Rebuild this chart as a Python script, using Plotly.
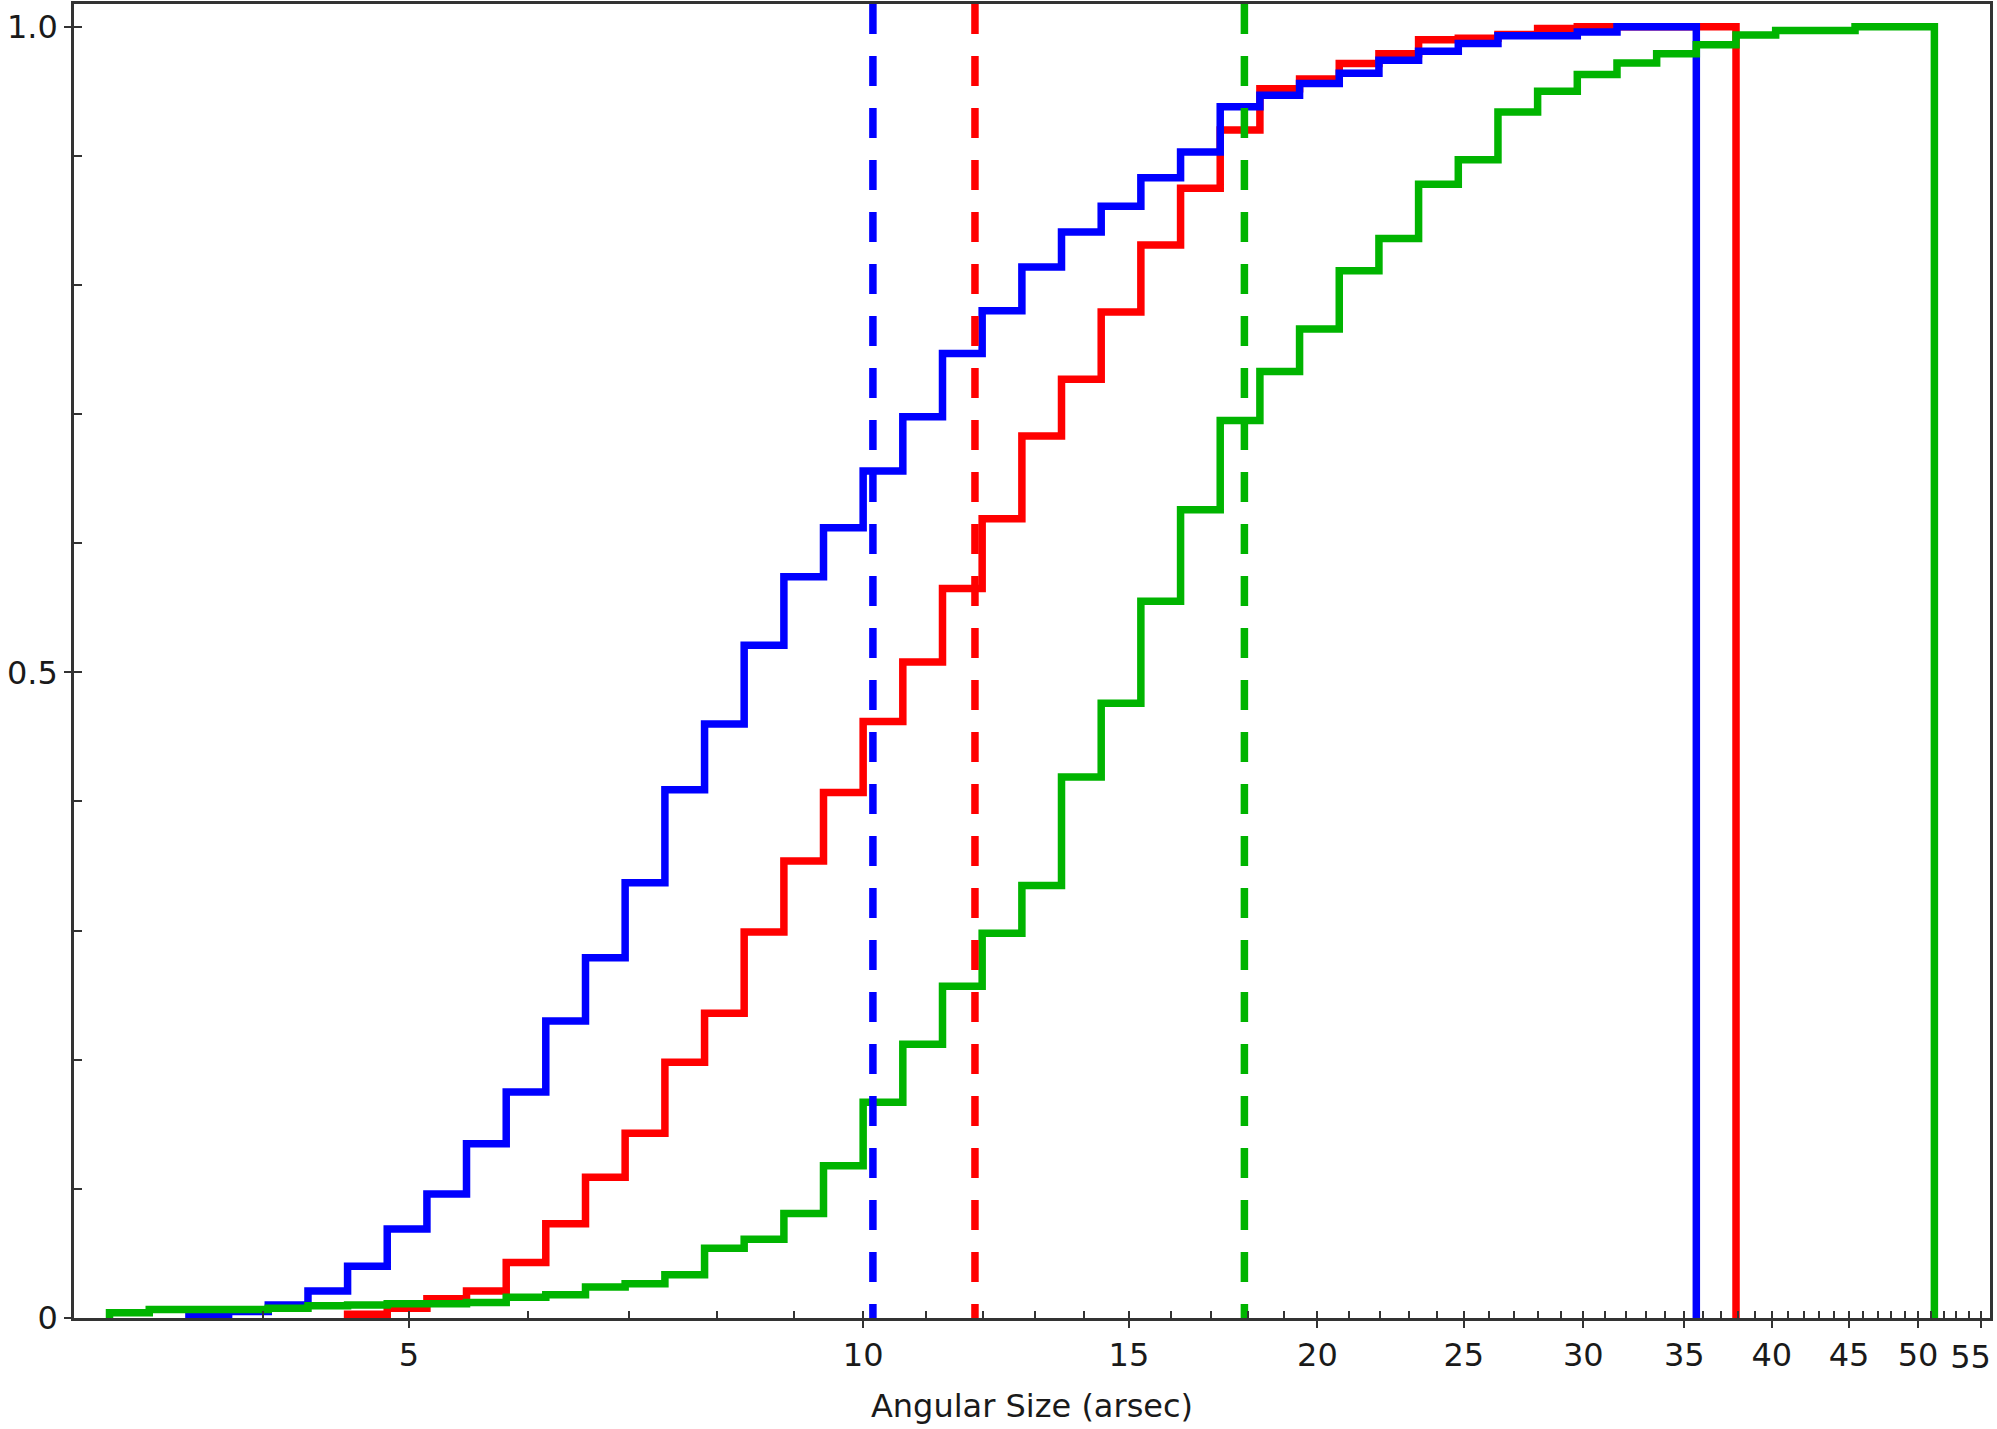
import math
import plotly.graph_objects as go

# ---- data ----
bin_edges = [3.167, 3.365, 3.575, 3.798, 4.035, 4.287, 4.554, 4.838, 5.140, 5.460,
             5.801, 6.162, 6.547, 6.955, 7.390, 7.851, 8.340, 8.861, 9.413, 10.000,
             10.624, 11.287, 11.991, 12.740, 13.534, 14.379, 15.276, 16.230, 17.242, 18.318,
             19.461, 20.676, 21.966, 23.336, 24.793, 26.340, 27.983, 29.729, 31.585, 33.556,
             35.649, 37.874, 40.237, 42.748, 45.416, 48.250, 51.260]

blue_start = 2   # index of first blue bin edge
blue_cum = [0.002, 0.005, 0.010, 0.021, 0.040, 0.069, 0.096, 0.135, 0.175, 0.230,
            0.279, 0.337, 0.409, 0.460, 0.521, 0.574, 0.612, 0.656, 0.698, 0.747,
            0.780, 0.814, 0.841, 0.861, 0.883, 0.903, 0.938, 0.947, 0.956, 0.964,
            0.974, 0.981, 0.987, 0.993, 0.993, 0.996, 1.000, 1.000]

red_start = 6
red_cum = [0.003, 0.0075, 0.015, 0.021, 0.043, 0.073, 0.109, 0.143, 0.198, 0.236,
           0.299, 0.354, 0.407, 0.462, 0.508, 0.565, 0.619, 0.683, 0.727, 0.779,
           0.831, 0.875, 0.920, 0.952, 0.9595, 0.9716, 0.979, 0.990, 0.991, 0.994,
           0.9987, 1.000, 1.000, 1.000, 1.000]

green_start = 0
green_cum = [0.004, 0.0065, 0.0065, 0.0065, 0.0075, 0.0095, 0.010, 0.011, 0.011, 0.012,
             0.016, 0.018, 0.024, 0.0266, 0.0335, 0.054, 0.061, 0.081, 0.118, 0.167,
             0.212, 0.257, 0.298, 0.335, 0.419, 0.476, 0.555, 0.626, 0.695, 0.733,
             0.766, 0.811, 0.836, 0.878, 0.897, 0.934, 0.950, 0.963, 0.972, 0.979,
             0.986, 0.9935, 0.997, 0.997, 1.000, 1.000]

medians = {"blue": 10.15, "red": 11.86, "green": 17.89}

x_major = [5, 10, 15, 20, 25, 30, 35, 40, 45, 50, 55]
x_major_text = ["5", "10", "15", "20", "25", "30", "35", "40", "45", "50", "55"]
x_minor = [4, 6, 7, 8, 9, 11, 12, 13, 14, 16, 17, 18, 19, 21, 22, 23, 24, 26, 27, 28, 29,
           31, 32, 33, 34, 36, 37, 38, 39, 41, 42, 43, 44, 46, 47, 48, 49, 51, 52, 53, 54]
y_major = [0, 0.5, 1.0]
y_major_text = ["0", "0.5", "1.0"]
y_minor = [0.1, 0.2, 0.3, 0.4, 0.6, 0.7, 0.8, 0.9]

x_title = "Angular Size (arsec)"
x_range = [3.0, 55.8]
y_range = [0, 1.0176]

colors = {"blue": "#0000ff", "red": "#ff0000", "green": "#00b400"}
LW = 7.5


def step_xy(start, cum):
    n = len(cum)
    xs = [bin_edges[start]] + bin_edges[start:start + n] + [bin_edges[start + n]]
    ys = [0] + list(cum) + [0]
    return xs, ys


fig = go.Figure()
for name, start, cum in [("red", red_start, red_cum),
                         ("blue", blue_start, blue_cum),
                         ("green", green_start, green_cum)]:
    xs, ys = step_xy(start, cum)
    fig.add_trace(go.Scatter(x=xs, y=ys, mode="lines", line_shape="hv",
                             line=dict(color=colors[name], width=LW),
                             showlegend=False, hoverinfo="skip"))

for name in ["blue", "red", "green"]:
    v = medians[name]
    fig.add_trace(go.Scatter(x=[v, v], y=[y_range[1], y_range[0]], mode="lines",
                             line=dict(color=colors[name], width=LW, dash="30px,22px"),
                             showlegend=False, hoverinfo="skip"))

# invisible traces on overlay axes (inner halves of major ticks; edge label)
for xa, ya in [("x2", "y2"), ("x3", "y")]:
    fig.add_trace(go.Scatter(x=[x_range[0]], y=[0], xaxis=xa, yaxis=ya, mode="markers",
                             marker=dict(opacity=0), showlegend=False, hoverinfo="skip"))

xr = [math.log10(x_range[0]), math.log10(x_range[1])]
FONT = dict(family="DejaVu Sans", size=32, color="#1a1a1a")
AX = "#333333"

# the last label is nudged left so that it stays inside the picture (as in the reference)
main_text = x_major_text[:-1] + [""]
edge_val = [x_major[-1]]
edge_text = [x_major_text[-1]]

fig.update_layout(
    width=1997, height=1429,
    margin=dict(l=74, r=7, t=4, b=111, autoexpand=False),
    paper_bgcolor="white", plot_bgcolor="white",
    font=FONT,
    xaxis=dict(type="log", range=xr, showgrid=False, zeroline=False, automargin=False,
               showline=True, mirror=True, linecolor=AX, linewidth=2.5,
               tickmode="array", tickvals=x_major, ticktext=main_text,
               ticks="outside", ticklen=7, tickwidth=2, tickcolor=AX,
               tickfont=dict(size=32), ticklabeloverflow="allow",
               minor=dict(tickmode="array", tickvals=x_minor, ticks="inside",
                          ticklen=7, tickwidth=2, tickcolor=AX, showgrid=False),
               title=dict(text=x_title, font=dict(size=32), standoff=22)),
    yaxis=dict(range=y_range, showgrid=False, zeroline=False, automargin=False,
               showline=True, mirror=True, linecolor=AX, linewidth=2.5,
               tickmode="array", tickvals=y_major, ticktext=y_major_text,
               ticks="outside", ticklen=7, tickwidth=2, tickcolor=AX,
               tickfont=dict(size=32), ticklabeloverflow="allow",
               minor=dict(tickmode="array", tickvals=y_minor, ticks="inside",
                          ticklen=8, tickwidth=2, tickcolor=AX, showgrid=False)),
    xaxis2=dict(type="log", overlaying="x", matches="x", anchor="y", side="bottom",
                range=xr, showgrid=False, zeroline=False, showline=False, automargin=False,
                tickmode="array", tickvals=x_major, showticklabels=False,
                ticks="inside", ticklen=7, tickwidth=2, tickcolor=AX),
    xaxis3=dict(type="log", overlaying="x", matches="x", anchor="y", side="bottom",
                range=xr, showgrid=False, zeroline=False, showline=False, automargin=False,
                tickmode="array", tickvals=edge_val, ticktext=edge_text,
                ticks="outside", ticklen=7, tickwidth=2, tickcolor=AX,
                tickfont=dict(size=32), ticklabeloverflow="allow",
                ticklabelshift=-10, ticklabelstandoff=4),
    yaxis2=dict(overlaying="y", matches="y", anchor="x", side="left",
                range=y_range, showgrid=False, zeroline=False, showline=False, automargin=False,
                tickmode="array", tickvals=y_major, showticklabels=False,
                ticks="inside", ticklen=8, tickwidth=2, tickcolor=AX),
)

fig.write_html("out.html", config={"displayModeBar": False},
               post_script="document.body.style.margin='0';")
